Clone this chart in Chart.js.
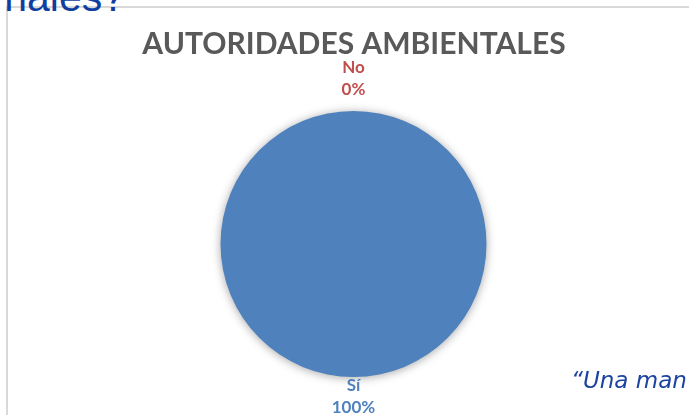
<!DOCTYPE html>
<html>
<head>
<meta charset="utf-8">
<script src="https://cdn.jsdelivr.net/npm/chart.js@4.4.0/dist/chart.umd.min.js"></script>
<style>
  html, body { margin: 0; padding: 0; background: #fff; }
  #wrap { position: relative; width: 689px; height: 415px; overflow: hidden; }
  #frame { position: absolute; left: 6px; top: 6px; right: -5px; bottom: -5px; border: 2px solid #d9d9d9; }
  #heading { position: absolute; right: 564px; top: -26px; font: 41px "Liberation Sans", Arial, sans-serif; color: #0f3ea0; white-space: nowrap; }
  #quote { position: absolute; left: 571px; top: 367px; font: italic 23px "DejaVu Sans", "Liberation Sans", sans-serif; color: #1b43a0; white-space: nowrap; }
  canvas { position: absolute; left: 0; top: 0; }
</style>
</head>
<body>
<div id="wrap">
  <div id="frame"></div>
  <div id="heading">nales?</div>
  <canvas id="myChart" width="689" height="415"></canvas>
  <div id="quote">&ldquo;Una man</div>
</div>
<script>
// chart data
const chartTitle = 'AUTORIDADES AMBIENTALES';
const categories = ['Sí', 'No'];
const values = [100, 0];
const sliceColors = ['#4f81bd', '#c0504d'];

// soft shadow under the pie, like the office chart
const shadowPlugin = {
  id: 'pieShadow',
  beforeDatasetDraw(chart) {
    const ctx = chart.ctx;
    ctx.save();
    ctx.shadowColor = 'rgba(0,0,0,0.35)';
    ctx.shadowBlur = 10;
    ctx.shadowOffsetX = 0;
    ctx.shadowOffsetY = 1;
  },
  afterDatasetDraw(chart) {
    chart.ctx.restore();
  }
};

// title + outside labels (category / percent)
const labelPlugin = {
  id: 'outsideLabels',
  afterDraw(chart) {
    const ctx = chart.ctx;
    ctx.save();
    ctx.fillStyle = '#595959';
    ctx.font = 'bold 30px Lato, "Liberation Sans Narrow", sans-serif';
    ctx.textAlign = 'center';
    ctx.textBaseline = 'alphabetic';
    ctx.fillText(chartTitle, 354, 54);

    const total = values.reduce((a, b) => a + b, 0);
    const meta = chart.getDatasetMeta(0);
    ctx.font = 'bold 17px Lato, "Liberation Sans", sans-serif';
    meta.data.forEach((arc, i) => {
      const mid = (arc.startAngle + arc.endAngle) / 2;
      const up = Math.sin(mid) < 0;
      const dist = arc.outerRadius + (up ? 13 : 0);
      const x = arc.x + Math.cos(mid) * dist;
      const y = arc.y + Math.sin(mid) * dist;
      const pct = Math.round(values[i] / total * 100) + '%';
      ctx.fillStyle = sliceColors[i];
      if (up) {
        ctx.textBaseline = 'bottom';
        ctx.fillText(pct, x, y);
        ctx.fillText(categories[i], x, y - 22);
      } else {
        ctx.textBaseline = 'top';
        ctx.fillText(categories[i], x, y);
        ctx.fillText(pct, x, y + 22);
      }
    });
    ctx.restore();
  }
};

new Chart(document.getElementById('myChart'), {
  type: 'pie',
  data: {
    labels: categories,
    datasets: [{
      data: values,
      backgroundColor: sliceColors,
      borderWidth: 0
    }]
  },
  options: {
    responsive: false,
    animation: false,
    layout: { padding: { top: 111, bottom: 38, left: 20, right: 2 } },
    plugins: {
      legend: { display: false },
      tooltip: { enabled: false }
    }
  },
  plugins: [shadowPlugin, labelPlugin]
});
</script>
</body>
</html>
